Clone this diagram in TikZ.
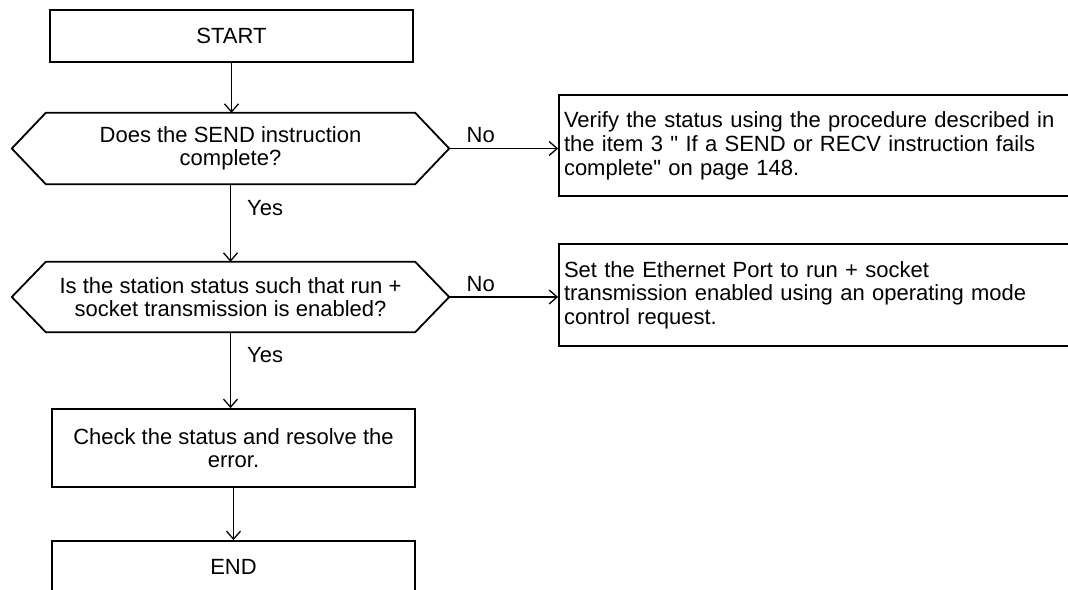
\documentclass[tikz,border=0pt]{standalone}
\usepackage{fontspec}
\setmainfont{Liberation Sans}
\usetikzlibrary{positioning,calc,arrows.meta}
\definecolor{cInk}{HTML}{000000}
\newcommand{\flowfont}{\fontsize{22}{23.6}\selectfont}
\newcommand{\hexa}[1]{%
  \draw[line width=1.8pt,cInk,line join=miter] ($(#1.north west)+(34,0)$) -- ($(#1.north east)+(-34,0)$) -- (#1.east)
    -- ($(#1.south east)+(-34,0)$) -- ($(#1.south west)+(34,0)$) -- (#1.west) -- cycle;}
\tikzset{
  box/.style={rectangle,draw=cInk,line width=1.8pt,inner sep=0pt,font=\flowfont,align=center},
  note/.style={rectangle,draw=cInk,line width=1.8pt,inner xsep=5pt,inner ysep=0pt,font=\flowfont,align=left,text width=515pt},
  dec/.style={rectangle,draw=none,inner sep=0pt,font=\flowfont,align=center},
  lbl/.style={inner sep=0pt,font=\flowfont},
  flow/.style={-{Straight Barb[length=8pt,width=14pt,line width=1.3pt]},line width=1.3pt,cInk},
}
\begin{document}
\begin{tikzpicture}[x=1pt,y=-1pt]
  \useasboundingbox (0,0) rectangle (1068,589);
  \node[box,minimum width=363pt,minimum height=52pt] (start) at (231.5,36) {START};
  \node[dec,minimum width=437pt,minimum height=71pt] (d1) at (230.5,148.5) {Does the SEND instruction\\complete?};
  \node[dec,minimum width=437pt,minimum height=70pt] (d2) at (230.5,297) {Is the station status such that run +\\socket transmission is enabled?};
  \node[box,minimum width=363pt,minimum height=78pt] (chk) at (233.5,448) {Check the status and resolve the\\error.};
  \node[box,minimum width=363pt,minimum height=52pt] (endb) at (233.5,567) {END};
  \node[note,minimum width=525pt,minimum height=101pt] (v1) at (821.5,145.75) {Verify the status using the procedure described in\\the item 3 \textquotedbl{} If a SEND or RECV instruction fails\\complete\textquotedbl{} on page 148.};
  \node[note,minimum width=525pt,minimum height=102pt] (v2) at (821.5,295) {Set the Ethernet Port to run + socket\\transmission enabled using an operating mode\\control request.};
  \hexa{d1}
  \hexa{d2}
  \draw[flow] (start.south) -- (start.south |- d1.north);
  \draw[flow] (d1.south) -- node[lbl,pos=0.31,right=16pt] (yes1) {Yes} (d1.south |- d2.north);
  \draw[flow] (d2.south) -- node[lbl,pos=0.30,right=16pt] (yes2) {Yes} (d2.south |- chk.north);
  \draw[flow] (chk.south) -- (chk.south |- endb.north);
  \draw[flow] (d1.east) -- node[lbl,pos=0.29,above=5pt] (no1) {No} (d1.east -| v1.west);
  \draw[flow] (d2.east) -- node[lbl,pos=0.29,above=5pt] (no2) {No} (d2.east -| v2.west);
\end{tikzpicture}
\end{document}
